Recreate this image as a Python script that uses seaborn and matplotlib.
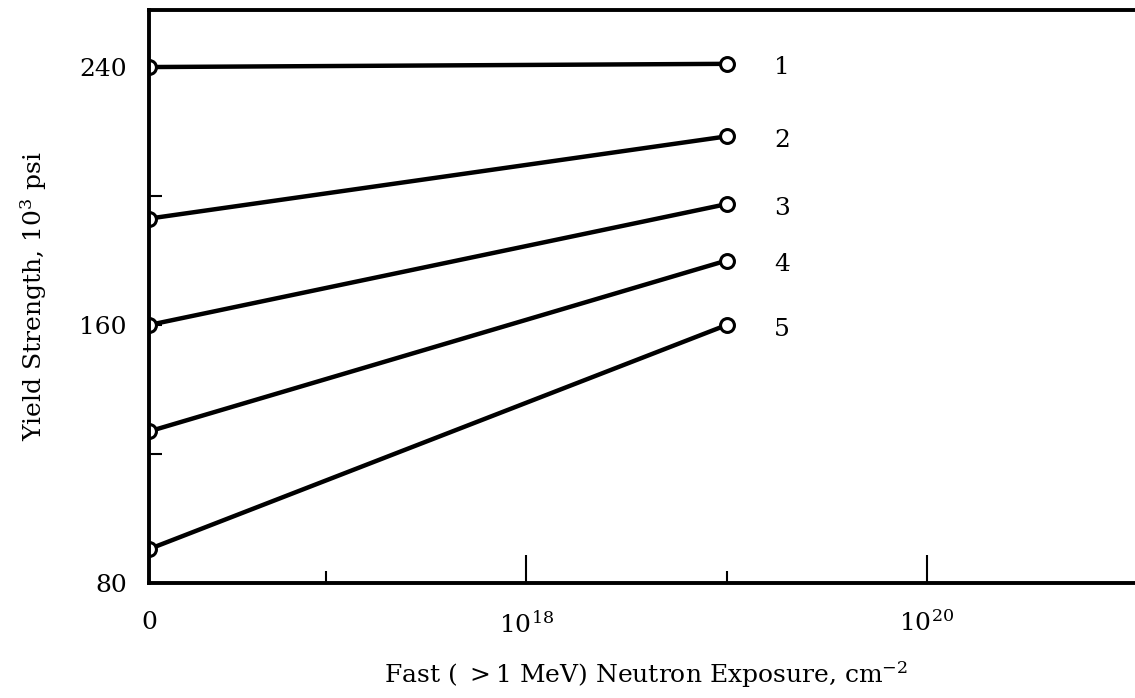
import numpy as np
import pandas as pd
import seaborn as sns
import matplotlib.pyplot as plt

# fast neutron exposure (cm^-2) at the two ends of each curve
exposure = [0, 1e19]
curve_ids = ['1', '2', '3', '4', '5']
# yield strength, 10^3 psi
strength_unirradiated = [240.0, 193.0, 160.0, 127.0, 90.5]
strength_irradiated = [241.0, 218.5, 197.5, 180.0, 160.0]

x_major = [0, 1e18, 1e20]
x_major_labels = ['0', r'$10^{18}$', r'$10^{20}$']
x_minor = [1e17, 1e19]
y_major = [80, 160, 240]
y_minor = [120, 200]

# the zero of the exposure scale sits a bit under two decades below 10^18
ZERO_POS = 16.115


def exposure_pos(e):
    return np.log10(e) if e > 0 else ZERO_POS


rows = []
for cid, s0, s1 in zip(curve_ids, strength_unirradiated, strength_irradiated):
    for e, s in zip(exposure, [s0, s1]):
        rows.append({'curve': cid, 'pos': exposure_pos(e), 'strength': s})
df = pd.DataFrame(rows)

sns.set_style('white')
plt.rcParams['font.family'] = ['DejaVu Serif']
plt.rcParams['mathtext.fontset'] = 'dejavuserif'
plt.rcParams['text.color'] = 'black'
plt.rcParams['axes.labelcolor'] = 'black'
plt.rcParams['xtick.color'] = 'black'
plt.rcParams['ytick.color'] = 'black'

fig = plt.figure(figsize=(11.35, 6.98), dpi=100)
ax = fig.add_axes([0.1313, 0.1648, 0.875, 0.8209])

sns.lineplot(data=df, x='pos', y='strength', hue='curve', palette=['black'] * 5,
             marker='o', markersize=10, markerfacecolor='white',
             markeredgecolor='black', markeredgewidth=2.2, linewidth=3.2,
             legend=False, ax=ax)

# curve numbers to the right of the irradiated points
end_pos = exposure_pos(exposure[-1])
for cid, s in zip(curve_ids, strength_irradiated):
    ax.annotate(cid, (end_pos, s), xytext=(40, -3), textcoords='offset points',
                ha='center', va='center', fontsize=18)

ax.set_xlim(ZERO_POS, 21.075)
ax.set_ylim(80, 257.7)

ax.set_xticks([exposure_pos(v) for v in x_major])
ax.set_xticklabels(x_major_labels)
ax.set_xticks([exposure_pos(v) for v in x_minor], minor=True)
ax.set_yticks(y_major)
ax.set_yticks(y_minor, minor=True)

ax.tick_params(axis='x', which='major', direction='in', length=20, width=1.5,
               pad=20, labelsize=18, bottom=True)
ax.tick_params(axis='x', which='minor', direction='in', length=9, width=1.5,
               bottom=True)
ax.tick_params(axis='y', which='major', direction='in', length=9, width=1.5,
               pad=16, labelsize=18, left=True)
ax.tick_params(axis='y', which='minor', direction='in', length=9, width=1.5,
               left=True)

for side in ['left', 'bottom', 'top']:
    ax.spines[side].set_linewidth(2.8)
    ax.spines[side].set_color('black')
ax.spines['right'].set_visible(False)

ax.set_xlabel(r'Fast ( $>$1 MeV) Neutron Exposure, cm$^{-2}$', fontsize=18, labelpad=16)
ax.set_ylabel(r'Yield Strength, 10$^3$ psi', fontsize=18, labelpad=22)

fig.savefig('out.png', dpi=100)
